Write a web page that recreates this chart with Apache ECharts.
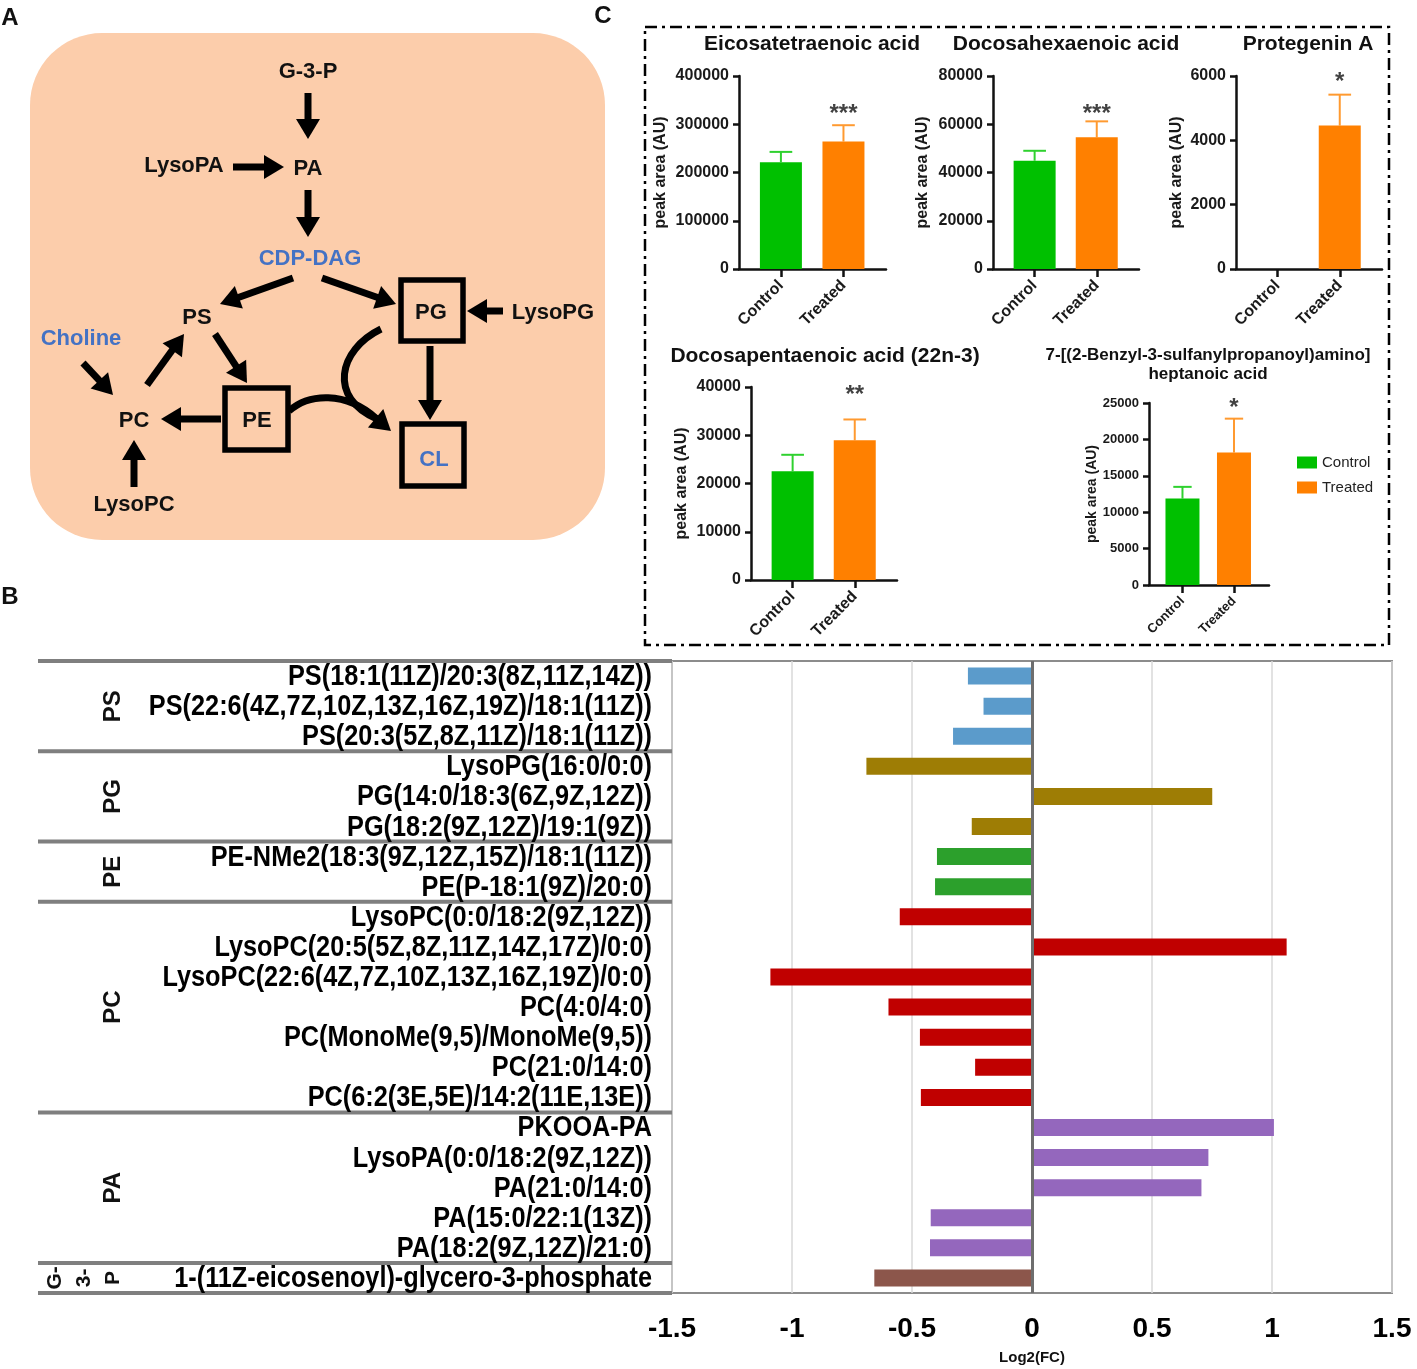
<!DOCTYPE html>
<html><head><meta charset="utf-8">
<script src="https://cdn.jsdelivr.net/npm/echarts@6/dist/echarts.min.js"></script>
<style>html,body{margin:0;padding:0;background:#fff}#c{width:1417px;height:1369px}</style>
</head><body><div id="c"></div>
<script>
// ---------------- Panel B data ----------------
const lipidNames = [
  'PS(18:1(11Z)/20:3(8Z,11Z,14Z))',
  'PS(22:6(4Z,7Z,10Z,13Z,16Z,19Z)/18:1(11Z))',
  'PS(20:3(5Z,8Z,11Z)/18:1(11Z))',
  'LysoPG(16:0/0:0)',
  'PG(14:0/18:3(6Z,9Z,12Z))',
  'PG(18:2(9Z,12Z)/19:1(9Z))',
  'PE-NMe2(18:3(9Z,12Z,15Z)/18:1(11Z))',
  'PE(P-18:1(9Z)/20:0)',
  'LysoPC(0:0/18:2(9Z,12Z))',
  'LysoPC(20:5(5Z,8Z,11Z,14Z,17Z)/0:0)',
  'LysoPC(22:6(4Z,7Z,10Z,13Z,16Z,19Z)/0:0)',
  'PC(4:0/4:0)',
  'PC(MonoMe(9,5)/MonoMe(9,5))',
  'PC(21:0/14:0)',
  'PC(6:2(3E,5E)/14:2(11E,13E))',
  'PKOOA-PA',
  'LysoPA(0:0/18:2(9Z,12Z))',
  'PA(21:0/14:0)',
  'PA(15:0/22:1(13Z))',
  'PA(18:2(9Z,12Z)/21:0)',
  '1-(11Z-eicosenoyl)-glycero-3-phosphate'
];
const lipidGroups = ['PS','PS','PS','PG','PG','PG','PE','PE','PC','PC','PC','PC','PC','PC','PC','PA','PA','PA','PA','PA','G-3-P'];
const log2FC = [-0.267,-0.202,-0.329,-0.69,0.751,-0.251,-0.396,-0.404,-0.551,1.061,-1.09,-0.598,-0.467,-0.237,-0.463,1.008,0.735,0.706,-0.422,-0.425,-0.657];
const groupLabels = {'PS':'PS','PG':'PG','PE':'PE','PC':'PC','PA':'PA','G-3-P':'G-\n3-\nP'};
const groupColors = {'PS':'#5b9bcb','PG':'#9e7d05','PE':'#2ca02c','PC':'#c00000','PA':'#9467bd','G-3-P':'#8c564b'};

// ---------------- Panel C data ----------------
const compoundTitles = [
  'Eicosatetraenoic acid',
  'Docosahexaenoic acid',
  'Protegenin A',
  'Docosapentaenoic acid (22n-3)',
  '7-[(2-Benzyl-3-sulfanylpropanoyl)amino]\nheptanoic acid'
];
const groupNames = ['Control','Treated'];
const controlMean = [221500, 44900, 0, 22550, 11880];
const controlSD   = [21200, 4100, 0, 3400, 1600];
const treatedMean = [264200, 54600, 4460, 28970, 18200];
const treatedSD   = [33800, 6600, 960, 4300, 4650];
const yMaxes  = [400000, 80000, 6000, 40000, 25000];
const ySteps  = [100000, 20000, 2000, 10000, 5000];
const sigMarks = ['***','***','*','**','*'];
const sigLevel = [321000, 64250, 5805, 38340, 24310];
const yAxisTitle = 'peak area (AU)';

// ---------------- styling / layout ----------------
const FONT = '"Liberation Sans", Arial, Helvetica, sans-serif';
const CTRL_COLOR = '#00c000', TRT_COLOR = '#ff8000';

const smallLayout = [
  {left:739,  top:76,  width:147, height:193, tx:812,  ty:44,  barW:42, fs:16, xfs:16, nfs:16, nameGap:70, tfs:21},
  {left:993,  top:76,  width:146, height:193, tx:1066, ty:44,  barW:42, fs:16, xfs:16, nfs:16, nameGap:62, tfs:21},
  {left:1236, top:76,  width:146, height:193, tx:1308, ty:44,  barW:42, fs:16, xfs:16, nfs:16, nameGap:51, tfs:21},
  {left:751,  top:387, width:146, height:193, tx:825,  ty:356, barW:42, fs:16, xfs:16, nfs:16, nameGap:61, tfs:21},
  {left:1149, top:403, width:120, height:182, tx:1208, ty:365, barW:34, fs:13, xfs:13, nfs:14, nameGap:50, tfs:17}
];

const chart = echarts.init(document.getElementById('c'));
const grids = [], xAxes = [], yAxes = [], series = [];

// Panel B
grids.push({left:672, top:661, width:720, height:632, show:true, borderColor:'#8c8c8c', borderWidth:2});
xAxes.push({gridIndex:0, type:'value', min:-1.5, max:1.5, interval:0.5,
  axisLine:{show:false}, axisTick:{show:false},
  splitLine:{show:true, lineStyle:{color:'#d9d9d9', width:1.5}},
  axisLabel:{fontFamily:FONT, fontWeight:'bold', fontSize:28, color:'#000', margin:22},
  name:'Log2(FC)', nameLocation:'middle', nameGap:57,
  nameTextStyle:{fontFamily:FONT, fontWeight:'bold', fontSize:15, color:'#111'}});
yAxes.push({gridIndex:0, type:'category', inverse:true, data:lipidNames,
  axisLine:{show:false}, axisTick:{show:false}, splitLine:{show:false},
  axisLabel:{show:false}});
series.push({type:'bar', xAxisIndex:0, yAxisIndex:0, barWidth:17,
  data: log2FC.map((v,i)=>({value:v, itemStyle:{color:groupColors[lipidGroups[i]]}})),
  markLine:{silent:true, symbol:'none', label:{show:false},
    lineStyle:{color:'#6e6e6e', width:3, type:'solid'}, data:[{xAxis:0}]}});

// Panel C small charts
smallLayout.forEach((L, k) => {
  const gi = k + 1;
  grids.push({left:L.left, top:L.top, width:L.width, height:L.height});
  const xmin = k === 4 ? -0.65 : -0.67;
  const xmax = 1.68;
  xAxes.push({gridIndex:gi, type:'value', min:xmin, max:xmax,
    axisLine:{show:true, onZero:false, lineStyle:{color:'#111', width:2.5}},
    axisTick:{show:true, customValues:[0,1], length:8, lineStyle:{color:'#111', width:2.5}},
    axisLabel:{customValues:[0,1], formatter:v => groupNames[Math.round(v)], rotate:45,
      fontFamily:FONT, fontWeight:'bold', fontSize:L.xfs, color:'#1a1a1a', margin:14},
    splitLine:{show:false}});
  yAxes.push({gridIndex:gi, type:'value', min:0, max:yMaxes[k], interval:ySteps[k],
    axisLine:{show:true, onZero:false, lineStyle:{color:'#111', width:2.5}},
    axisTick:{show:true, length:6, lineStyle:{color:'#111', width:2.5}},
    axisLabel:{formatter:v => String(v), fontFamily:FONT, fontWeight:'bold', fontSize:L.fs, color:'#1a1a1a', margin:10},
    splitLine:{show:false},
    name:yAxisTitle, nameLocation:'middle', nameGap:L.nameGap,
    nameTextStyle:{fontFamily:FONT, fontWeight:'bold', fontSize:L.nfs, color:'#1a1a1a'}});
  series.push({type:'bar', name:groupNames[0], xAxisIndex:gi, yAxisIndex:gi, barWidth:L.barW, barGap:'-100%',
    itemStyle:{color:CTRL_COLOR}, data:[[0, controlMean[k]]]});
  series.push({type:'bar', name:groupNames[1], xAxisIndex:gi, yAxisIndex:gi, barWidth:L.barW, barGap:'-100%',
    itemStyle:{color:TRT_COLOR}, data:[[1, treatedMean[k]]]});
  series.push({type:'custom', xAxisIndex:gi, yAxisIndex:gi, silent:true,
    data:[[0, controlMean[k], controlSD[k]], [1, treatedMean[k], treatedSD[k]]],
    renderItem:(params, api) => {
      const x = api.value(0), m = api.value(1), sd = api.value(2);
      if (!(sd > 0)) return {type:'group', children:[]};
      const p0 = api.coord([x, m]), p1 = api.coord([x, m + sd]);
      const col = x === 0 ? '#2fd12f' : '#ff9a30';
      const cw = L.barW * 0.27;
      return {type:'group', children:[
        {type:'line', shape:{x1:p0[0], y1:p0[1], x2:p1[0], y2:p1[1]}, style:{stroke:col, lineWidth:2}},
        {type:'line', shape:{x1:p1[0]-cw, y1:p1[1], x2:p1[0]+cw, y2:p1[1]}, style:{stroke:col, lineWidth:2}}
      ]};
    }});
  series.push({type:'scatter', xAxisIndex:gi, yAxisIndex:gi, symbolSize:0, silent:true,
    data:[[1, sigLevel[k]]],
    label:{show:true, position:'inside', formatter:sigMarks[k], fontFamily:FONT, fontWeight:'bold', fontSize:24, color:'#111'}});
});

chart.setOption({
  animation:false,
  textStyle:{fontFamily:FONT},
  grid:grids, xAxis:xAxes, yAxis:yAxes, series:series,
  legend:{show:true, orient:'vertical', left:1292, top:450, data:groupNames, icon:'rect',
    itemWidth:20, itemHeight:12, itemGap:10, selectedMode:false,
    textStyle:{fontFamily:FONT, fontSize:15, color:'#222'}}
});

// ---------------- graphics ----------------
const G = [];
function txt(x, y, t, opt) {
  opt = opt || {};
  G.push({type:'text', x:x, y:y, rotation:opt.rot || 0, scaleX:opt.sx || 1, z:10,
    style:{text:t, fontFamily:opt.ff || FONT, fontWeight:opt.fw || 'bold', fontSize:opt.fs || 22,
      fill:opt.fill || '#111', align:opt.align || 'center', verticalAlign:'middle', lineHeight:opt.lh}});
}
function arrow(x1, y1, x2, y2) {
  const dx = x2 - x1, dy = y2 - y1, len = Math.hypot(dx, dy), ux = dx/len, uy = dy/len;
  const hl = 20, hw = 12;
  const bx = x2 - ux*hl, by = y2 - uy*hl;
  G.push({type:'line', z:10, shape:{x1:x1, y1:y1, x2:bx+ux*2, y2:by+uy*2}, style:{stroke:'#000', lineWidth:7}});
  G.push({type:'polygon', z:10, shape:{points:[[x2,y2],[bx-uy*hw, by+ux*hw],[bx+uy*hw, by-ux*hw]]}, style:{fill:'#000'}});
}
function head(x2, y2, ux, uy) {
  const len = Math.hypot(ux, uy); ux/=len; uy/=len;
  const hl = 20, hw = 12, bx = x2 - ux*hl, by = y2 - uy*hl;
  G.push({type:'polygon', z:10, shape:{points:[[x2,y2],[bx-uy*hw, by+ux*hw],[bx+uy*hw, by-ux*hw]]}, style:{fill:'#000'}});
}
function box(x, y, w, h) {
  G.push({type:'rect', z:10, shape:{x:x, y:y, width:w, height:h}, style:{fill:'none', stroke:'#000', lineWidth:5.5}});
}
const BLUE = '#4472c4';

// Panel letters
txt(10, 18, 'A', {fs:24});
txt(603, 16, 'C', {fs:24});
txt(10, 597, 'B', {fs:24});

// Panel A diagram
G.push({type:'rect', z:1, shape:{x:30, y:33, width:575, height:507, r:72}, style:{fill:'#fccdab'}});
txt(308, 72, 'G-3-P');
arrow(308, 93, 308, 139);
txt(184, 166, 'LysoPA');
arrow(233, 167, 284, 167);
txt(308, 169, 'PA');
arrow(308, 190, 308, 237);
txt(310, 259, 'CDP-DAG', {fill:BLUE});
arrow(293, 278, 220, 304);
arrow(322, 278, 396, 304);
box(401, 280, 62, 61);
txt(431, 313, 'PG');
arrow(503, 311, 467, 311);
txt(553, 313, 'LysoPG');
arrow(430, 346, 430, 420);
box(402, 424, 62, 62);
txt(434, 460, 'CL', {fill:BLUE});
txt(197, 318, 'PS');
txt(81, 339, 'Choline', {fill:BLUE});
arrow(83, 363, 113, 395);
arrow(147, 385, 184, 334);
arrow(215, 334, 247, 383);
box(225, 388, 63, 62);
txt(257, 421, 'PE');
arrow(221, 419, 161, 419);
txt(134, 421, 'PC');
arrow(134, 487, 134, 440);
txt(134, 505, 'LysoPC');
G.push({type:'bezierCurve', z:10, shape:{x1:381, y1:329, cpx1:338, cpy1:350, cpx2:328, cpy2:398, x2:377, y2:419}, style:{stroke:'#000', lineWidth:7, fill:'none'}});
G.push({type:'bezierCurve', z:10, shape:{x1:289, y1:411, cpx1:308, cpy1:394, cpx2:345, cpy2:390, x2:377, y2:419}, style:{stroke:'#000', lineWidth:7, fill:'none'}});
head(391, 431, 0.77, 0.64);

// Panel C: dash-dot frame and titles
G.push({type:'rect', z:1, shape:{x:645, y:27, width:744, height:618}, style:{fill:'none', stroke:'#000', lineWidth:2.5, lineDash:[12,5,3,5]}});
smallLayout.forEach((L, k) => {
  txt(L.tx, L.ty, compoundTitles[k], {fs:L.tfs, lh:L.tfs + 2});
});

// Panel B: category labels, group separators and labels (from the category axis)
const rowY = i => chart.convertToPixel({yAxisIndex:0}, lipidNames[i]);
const band = rowY(1) - rowY(0);
lipidNames.forEach((n, i) => {
  txt(652, rowY(i) + 1, n, {fs:29, fw:'bold', align:'right', sx:0.872, fill:'#000'});
});
const bounds = [];
let start = 0;
for (let i = 1; i <= lipidGroups.length; i++) {
  if (i === lipidGroups.length || lipidGroups[i] !== lipidGroups[start]) {
    bounds.push({g:lipidGroups[start], s:start, e:i - 1});
    start = i;
  }
}
const lineYs = [rowY(0) - band/2];
bounds.forEach(b => lineYs.push(rowY(b.e) + band/2));
lineYs.forEach(y => {
  G.push({type:'line', z:5, shape:{x1:38, y1:y, x2:672, y2:y}, style:{stroke:'#7f7f7f', lineWidth:4}});
});
bounds.forEach(b => {
  const cy = (rowY(b.s) + rowY(b.e)) / 2;
  if (b.g === 'G-3-P') txt(84, cy, groupLabels[b.g], {fs:21, rot:Math.PI/2, lh:29});
  else txt(113, cy, groupLabels[b.g], {fs:24, rot:Math.PI/2});
});

chart.setOption({graphic:G});
</script></body></html>
